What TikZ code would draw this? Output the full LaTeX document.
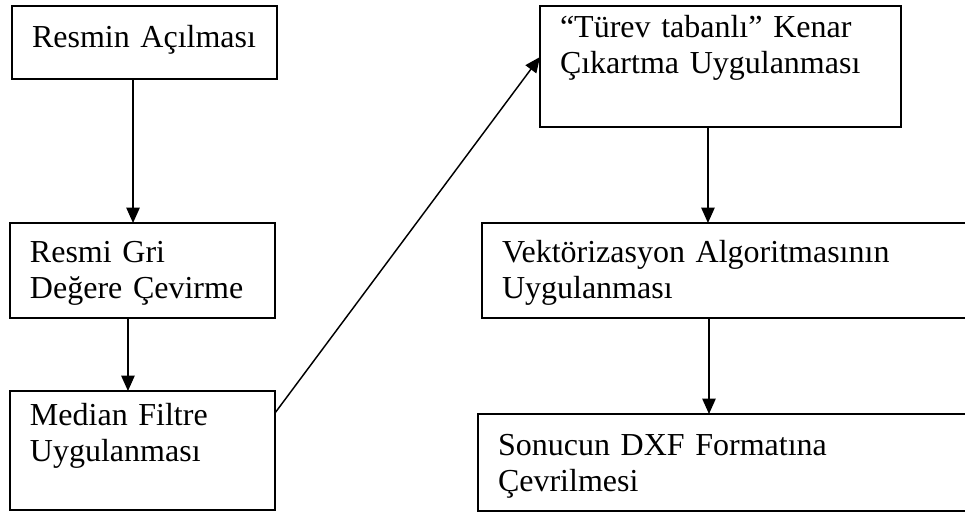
\documentclass[tikz,border=0pt]{standalone}
\usepackage{fontspec}
\setmainfont{Liberation Serif}
\usetikzlibrary{arrows.meta}

\begin{document}
\begin{tikzpicture}[font=\fontsize{24pt}{27.6pt}\selectfont,align=left,inner xsep=15pt,inner ysep=0pt,outer sep=0pt,line width=1.1pt,
		>={Triangle[length=11.5pt,width=10pt]},box/.style={draw,anchor=north west,text width=#1}]
		\useasboundingbox (0,0) rectangle (723.75pt,-385.5pt);
		\clip (0,0) rectangle (723.75pt,-385.5pt);
		\node[box=168.75pt,text height=30.75pt,text depth=24pt]    (Acilma)   at (9pt,-4.5pt)       { Resmin Açılması };
		\node[box=168.75pt,text height=29.25pt,text depth=42pt]    (GriDeger) at (7.5pt,-167.25pt)  { Resmi Gri \\ Değere Çevirme };
		\node[box=168.75pt,text height=25.5pt,text depth=63.75pt]  (Median)   at (7.5pt,-293.25pt)  { Median Filtre \\ Uygulanması };
		\node[box=240.75pt,text height=23.25pt,text depth=67.5pt]  (Turev)    at (405pt,-4.5pt)     { “Türev tabanlı” Kenar \\ Çıkartma Uygulanması };
		\node[box=358.5pt,text height=29.25pt,text depth=42pt]     (Vektor)   at (361.5pt,-167.25pt){ Vektörizasyon Algoritmasının \\ Uygulanması };
		\node[box=361.5pt,text height=30.75pt,text depth=42pt]     (DXF)      at (358.5pt,-310.5pt) { Sonucun DXF Formatına \\ Çevrilmesi };

		\path[->] ([xshift=-8.6pt]Acilma.south)        edge ([xshift=-8.6pt]Acilma.south |- GriDeger.north)
		          ([xshift=-10.9pt]GriDeger.south)     edge ([xshift=-10.9pt]GriDeger.south |- Median.north)
		          ([yshift=-16.5pt]Median.north east)  edge ([yshift=-38.25pt]Turev.north west)
		          ([xshift=-9.4pt]Turev.south)         edge ([xshift=-9.4pt]Turev.south |- Vektor.north)
		          ([xshift=170.25pt]Vektor.south west) edge ([xshift=170.25pt]Vektor.south west |- DXF.north);
	\end{tikzpicture}
\end{document}
